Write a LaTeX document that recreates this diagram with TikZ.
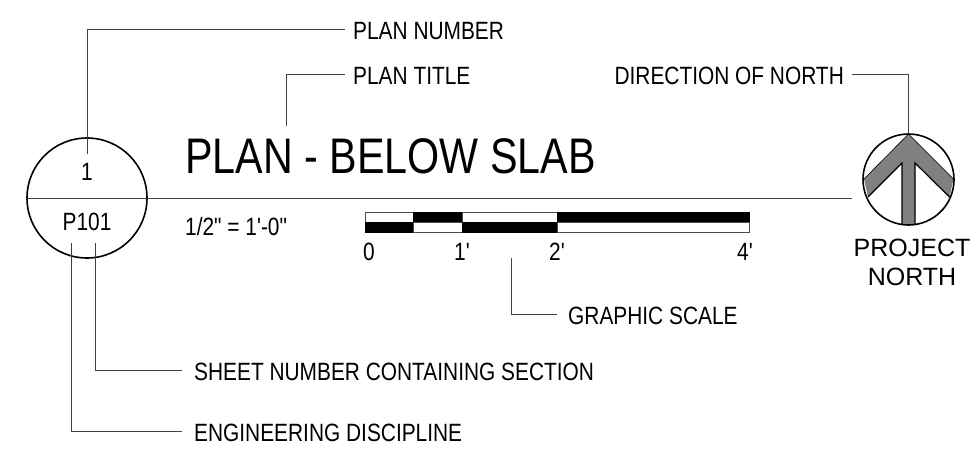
\documentclass[tikz,border=0pt]{standalone}
\usepackage{fontspec}
\newfontfamily\plainfont{Liberation Sans}
\newfontfamily\narrowfont[FakeStretch=0.835]{Liberation Sans}
\newfontfamily\titlefont[FakeStretch=0.825]{Liberation Sans}
\usetikzlibrary{positioning}

\tikzset{
    leader/.style={draw, line width=0.9pt, black!75},
    callout/.style={inner xsep=8pt, inner ysep=0pt, text height=20pt, text depth=0pt, font=\narrowfont\fontsize{25}{25}\selectfont},
    tag/.style={inner sep=0pt, font=\narrowfont\fontsize{25}{25}\selectfont},
    bubble/.style={draw, circle, line width=1.6pt, inner sep=0pt},
    ink/.style={fill=black, draw=black, line width=0.6pt},
    blank/.style={fill=white, draw=black!70, line width=0.8pt}
}

\begin{document}
\begin{tikzpicture}[x=1pt, y=-1pt]
    \useasboundingbox (0,0) rectangle (973,458);

    % Section bubble
    \node[bubble, minimum size=120pt] (bubble) at (87,198) {};
    \node[tag] (plannum) at (87,172) {1};
    \node[tag] (sheetnum) at (87,222) {P101};

    % North symbol
    \fill[black!50] (908.5,134) -- (953.5,179) -- (949.5,197) -- (915,163) -- (915,224.5)
        -- (902,224.5) -- (902,163) -- (868,197) -- (864,179) -- cycle;
    \draw[line width=1.2pt] (868,197) -- (902,163) -- (902,224.5);
    \draw[line width=1.2pt] (949.5,197) -- (915,163) -- (915,224.5);
    \draw[line width=0.6pt] (864,179) -- (908.5,134) -- (953.5,179);
    \node[bubble, minimum size=91pt] (north) at (908.5,179.5) {};
    \node[tag, align=center, font=\plainfont\fontsize{25}{29}\selectfont] (project) at (912,262) {PROJECT\\NORTH};

    % Title
    \node[inner sep=0pt, anchor=west, font=\titlefont\fontsize{50}{50}\selectfont] (title) at (185,156) {PLAN - BELOW SLAB};
    \node[tag, anchor=west] (ratio) at (185,227) {1/2" = 1'-0"};
    \draw[leader] (bubble.west) -- (852,198) coordinate (ruleend);

    % Graphic scale
    \path[blank] (365,212) rectangle (413,222);
    \path[ink] (413,212) rectangle (462,222);
    \path[blank] (462,212) rectangle (557,222);
    \path[ink] (557,212) rectangle (749,222);
    \path[ink] (365,222) rectangle (413,232);
    \path[blank] (413,222) rectangle (462,232);
    \path[ink] (462,222) rectangle (557,232);
    \path[blank] (557,222) rectangle (749,232);
    \node[tag] (zero) at (369,252) {0};
    \node[tag] (one) at (462,252) {1'};
    \node[tag] (two) at (557,252) {2'};
    \node[tag] (four) at (745,252) {4'};

    % Callouts
    \node[callout, anchor=west] (lblnumber) at (345,29) {PLAN NUMBER};
    \node[callout, anchor=west] (lbltitle) at (345,74) {PLAN TITLE};
    \node[callout, anchor=east] (lblnorth) at (852,74) {DIRECTION OF NORTH};
    \node[callout, anchor=west, inner xsep=11pt] (lblscale) at (557,314) {GRAPHIC SCALE};
    \node[callout, anchor=west, inner xsep=12pt] (lblsheet) at (182,370) {SHEET NUMBER CONTAINING SECTION};
    \node[callout, anchor=west, inner xsep=12pt] (lbldisc) at (182,431) {ENGINEERING DISCIPLINE};

    \coordinate (tipnumber) at (87,154);
    \coordinate (tiptitle) at (286,126);
    \coordinate (tipscale) at (511,258);
    \coordinate (tipsheet) at (95,243);
    \coordinate (tipdisc) at (71,243);

    % Connections
    \draw[leader] (tipnumber) |- (lblnumber.west);
    \draw[leader] (tiptitle) |- (lbltitle.west);
    \draw[leader] (north.north) |- (lblnorth.east);
    \draw[leader] (tipscale) |- (lblscale.west);
    \draw[leader] (tipsheet) |- (lblsheet.west);
    \draw[leader] (tipdisc) |- (lbldisc.west);
\end{tikzpicture}
\end{document}
